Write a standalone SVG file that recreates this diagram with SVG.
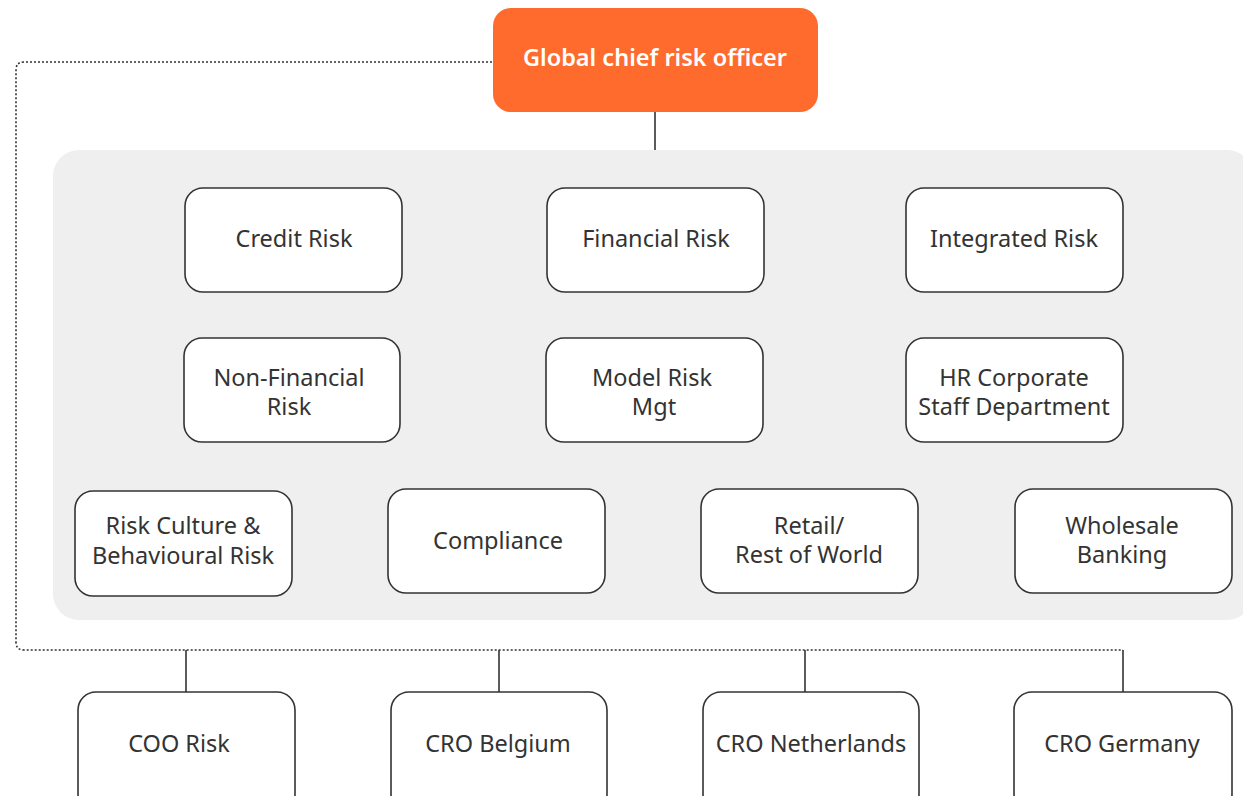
<svg xmlns="http://www.w3.org/2000/svg" width="1243" height="796" viewBox="0 0 1243 796">
<style>
.box{fill:#fff;stroke:#333;stroke-width:1.6}
.t{font-family:"Noto Sans","Liberation Sans",sans-serif;font-size:23.5px;fill:#333;text-anchor:middle}
.line{stroke:#333;stroke-width:1.6;fill:none}
.dot{stroke:#333;stroke-width:1.6;fill:none;stroke-dasharray:2 2}
</style>
<rect x="0" y="0" width="1243" height="796" fill="#fff"/>
<rect x="53" y="150" width="1200" height="470" rx="26" fill="#efefef"/>
<g id="connectors">
<path class="dot" d="M492 62 H24 Q16 62 16 70 V642 Q16 650 24 650 H1123"/>
<line class="line" x1="655" y1="112" x2="655" y2="150"/>
<line class="line" x1="186" y1="650" x2="186" y2="692"/>
<line class="line" x1="499" y1="650" x2="499" y2="692"/>
<line class="line" x1="805" y1="650" x2="805" y2="692"/>
<line class="line" x1="1123" y1="650" x2="1123" y2="692"/>
</g>
<g id="gcro">
<rect x="493" y="8" width="325" height="104" rx="18" fill="#ff6b2c"/>
<text class="t" x="655" y="66" style="fill:#fff;font-weight:600">Global chief risk officer</text>
</g>
<g id="credit"><rect class="box" x="185" y="188" width="217" height="104" rx="18"/><text class="t" x="294" y="247">Credit Risk</text></g>
<g id="financial"><rect class="box" x="547" y="188" width="217" height="104" rx="18"/><text class="t" x="656" y="247">Financial Risk</text></g>
<g id="integrated"><rect class="box" x="906" y="188" width="217" height="104" rx="18"/><text class="t" x="1014" y="247">Integrated Risk</text></g>
<g id="nonfin"><rect class="box" x="184" y="338" width="216" height="104" rx="18"/><text class="t" x="289" y="386">Non-Financial</text><text class="t" x="289" y="415">Risk</text></g>
<g id="model"><rect class="box" x="546" y="338" width="217" height="104" rx="18"/><text class="t" x="652" y="386">Model Risk</text><text class="t" x="654" y="415">Mgt</text></g>
<g id="hr"><rect class="box" x="906" y="338" width="217" height="104" rx="18"/><text class="t" x="1014" y="386">HR Corporate</text><text class="t" x="1014" y="415">Staff Department</text></g>
<g id="culture"><rect class="box" x="75" y="491" width="217" height="105" rx="18"/><text class="t" x="183" y="534">Risk Culture &amp;</text><text class="t" x="183" y="564">Behavioural Risk</text></g>
<g id="compliance"><rect class="box" x="388" y="489" width="217" height="104" rx="18"/><text class="t" x="498" y="549">Compliance</text></g>
<g id="retail"><rect class="box" x="701" y="489" width="217" height="104" rx="18"/><text class="t" x="809" y="534">Retail/</text><text class="t" x="809" y="563">Rest of World</text></g>
<g id="wholesale"><rect class="box" x="1015" y="489" width="217" height="104" rx="18"/><text class="t" x="1122" y="534">Wholesale</text><text class="t" x="1122" y="563">Banking</text></g>
<g id="coo"><rect class="box" x="78" y="692" width="217" height="120" rx="18"/><text class="t" x="179" y="752">COO Risk</text></g>
<g id="belgium"><rect class="box" x="391" y="692" width="216" height="120" rx="18"/><text class="t" x="498" y="752">CRO Belgium</text></g>
<g id="netherlands"><rect class="box" x="703" y="692" width="216" height="120" rx="18"/><text class="t" x="811" y="752">CRO Netherlands</text></g>
<g id="germany"><rect class="box" x="1014" y="692" width="218" height="120" rx="18"/><text class="t" x="1122" y="752">CRO Germany</text></g>
</svg>
